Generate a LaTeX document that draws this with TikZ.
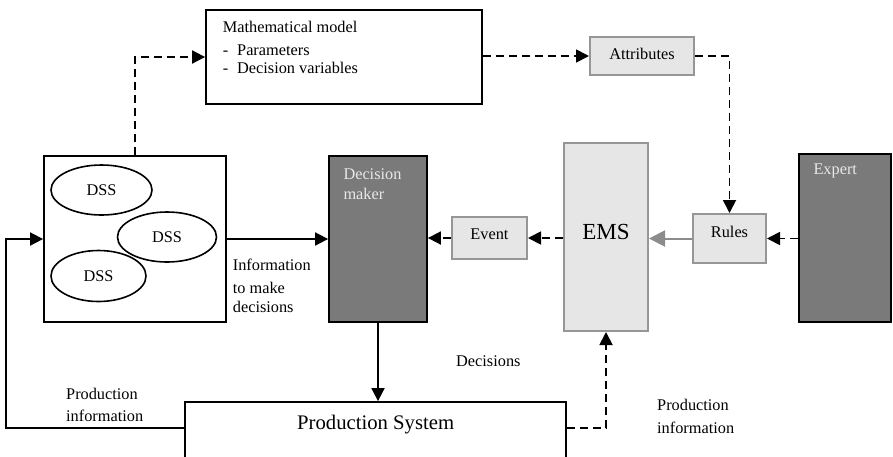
\documentclass[tikz,border=0pt]{standalone}
\usepackage{fontspec}
\setmainfont{Liberation Serif}
\usetikzlibrary{arrows.meta,shapes.geometric,calc}
\definecolor{cDark}{RGB}{122,122,122}
\definecolor{cLight}{RGB}{230,230,230}
\definecolor{cLightEdge}{RGB}{150,150,150}
\definecolor{cGrayArrow}{RGB}{140,140,140}
\definecolor{cDmText}{RGB}{232,232,232}
\begin{document}
\begin{tikzpicture}[x=1pt,y=-1pt,
  every node/.style={font=\fontsize{16.3}{20}\selectfont, inner sep=0pt},
  whitebox/.style={rectangle, draw=black, line width=1.8pt, fill=white},
  darkbox/.style={rectangle, draw=black, line width=1.8pt, fill=cDark},
  lightbox/.style={rectangle, draw=cLightEdge, line width=2pt, fill=cLight},
  dssell/.style={ellipse, draw=black, line width=1.6pt, fill=white},
  conn/.style={line width=1.8pt, -{Triangle[length=13pt,width=13pt]}},
  dconn/.style={conn, dash pattern=on 8pt off 5pt},
  gconn/.style={line width=2pt, draw=cGrayArrow, -{Triangle[length=16pt,width=16pt]}},
  lbl/.style={anchor=base west},
  dmlbl/.style={anchor=base west, text=cDmText},
]
\useasboundingbox (0,0) rectangle (893,456);
\fill[white] (0,0) rectangle (893,456);
\begin{scope}
\clip (-2,-2) rectangle (895,456);
% boxes
\node[whitebox, minimum width=276pt, minimum height=94pt] (mm) at (344,57) {};
\node[lightbox, minimum width=104pt, minimum height=38pt, text height=6pt, text depth=0pt] (attr) at (642,56) {Attributes};
\node[whitebox, minimum width=182pt, minimum height=166pt] (dssbox) at (135,239) {};
\node[darkbox, minimum width=98pt, minimum height=166pt] (dm) at (378,239) {};
\node[lightbox, minimum width=75pt, minimum height=42pt, text height=2.6pt, text depth=0pt] (event) at (489.5,238) {Event};
\node[lightbox, minimum width=84pt, minimum height=188pt] (ems) at (606,237) {};
\node[lightbox, minimum width=73pt, minimum height=49pt, text height=0pt, text depth=2.4pt] (rules) at (729.5,238.5) {Rules};
\node[darkbox, minimum width=92pt, minimum height=168pt] (expert) at (845,238) {};
\node[whitebox, minimum width=381pt, minimum height=68pt] (ps) at (375.5,436) {};
% ellipses
\node[dssell, minimum width=101pt, minimum height=50pt] (dss1) at (101.5,190) {DSS};
\node[dssell, minimum width=99pt, minimum height=50pt] (dss2) at (167,237) {DSS};
\node[dssell, minimum width=95pt, minimum height=51pt] (dss3) at (98.5,276) {DSS};
% texts
\node[lbl] (mmt) at (222.7,32.3) {Mathematical model};
\node[lbl] (mmp) at (222.7,55.5) {\makebox[14.3pt][l]{-}Parameters};
\node[lbl] (mmd) at (222.7,73.5) {\makebox[14.3pt][l]{-}Decision variables};
\node[dmlbl] (dmt1) at (343.3,179.3) {Decision};
\node[dmlbl] (dmt2) at (343.3,199.3) {maker};
\node[dmlbl] (expt) at (813.3,174.2) {Expert};
\node[anchor=base, font=\fontsize{23}{26}\selectfont] (emst) at (606,239.3) {EMS};
\node[lbl] (info1) at (232.7,270.5) {Information};
\node[lbl] (info2) at (232.7,293) {to make};
\node[lbl] (info3) at (232.7,312.5) {decisions};
\node[lbl] (dec) at (456,366.5) {Decisions};
\node[lbl] (pil1) at (66,399) {Production};
\node[lbl] (pil2) at (66,421.7) {information};
\node[lbl] (pir1) at (657,410.7) {Production};
\node[lbl] (pir2) at (657,433) {information};
\node[lbl, font=\fontsize{20.7}{24}\selectfont] (pst) at (297,429.5) {Production System};
% connectors
\draw[dconn] (dssbox.north) |- (mm.west);
\draw[dconn] (mm.east |- attr.west) -- (attr.west);
\draw[dconn] (attr.east) -| (rules.north);
\draw[dconn] (expert.west |- rules.east) -- (rules.east);
\draw[gconn] (rules.west) -- (rules.west -| ems.east);
\draw[dconn] (ems.west |- event.east) -- (event.east);
\draw[dconn] (event.west) -- (event.west -| dm.east);
\draw[conn] (dssbox.east) -- (dm.west);
\draw[conn] (dm.south) -- (dm.south |- ps.north);
\draw[conn] ([yshift=-27pt]ps.north west) -| ($(dssbox.west)+(-37,0)$) -- (dssbox.west);
\draw[dconn] ([yshift=-27pt]ps.north east) -| (ems.south);
\end{scope}
\end{tikzpicture}
\end{document}
